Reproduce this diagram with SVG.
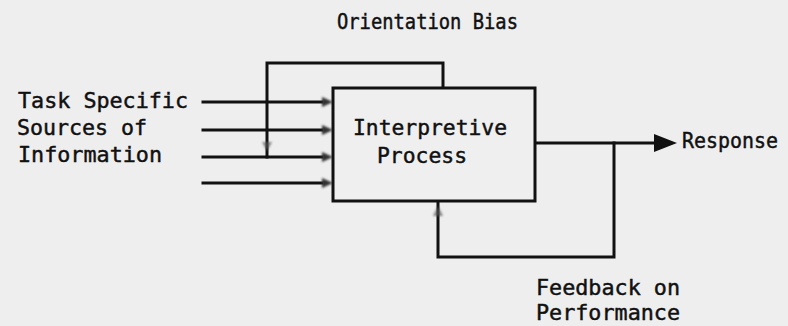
<svg xmlns="http://www.w3.org/2000/svg" width="788" height="326" viewBox="0 0 788 326">
  <style>
    .bg { fill: #eeeeee; }
    .line { fill: none; stroke: #111111; stroke-width: 3; stroke-linecap: square; }
    .box { fill: #efefef; stroke: #111111; stroke-width: 3; }
    .lbl { font-family: "DejaVu Sans Mono", "Liberation Mono", monospace; font-size: 21px; fill: #111111; stroke: #111111; stroke-width: 0.45; }
    .tip { fill: #333333; }
    .faint { fill: #555555; opacity: 0.7; }
  </style>
  <defs>
    <filter id="soft" x="-50%" y="-50%" width="200%" height="200%">
      <feGaussianBlur stdDeviation="0.9"/>
    </filter>
  </defs>

  <rect class="bg" x="0" y="0" width="788" height="326"/>

  <!-- connectors -->
  <g id="connectors">
    <!-- four input lines into the process box -->
    <path class="line" d="M203,102 H322"/>
    <path class="line" d="M203,130 H322"/>
    <path class="line" d="M203,157 H322"/>
    <path class="line" d="M203,183 H322"/>
    <g filter="url(#soft)">
      <polygon class="tip" points="322,97 333,102 322,107"/>
      <polygon class="tip" points="322,125 333,130 322,135"/>
      <polygon class="tip" points="322,152 333,157 322,162"/>
      <polygon class="tip" points="322,178 333,183 322,188"/>
    </g>
    <!-- orientation bias loop over the top -->
    <path class="line" d="M267,157 V63 H443 V88"/>
    <polygon class="faint" filter="url(#soft)" points="262,142 272,142 267,151"/>
    <!-- response output -->
    <path class="line" d="M535,143 H656"/>
    <polygon fill="#111111" points="654,134 677,143 654,152"/>
    <!-- feedback on performance loop underneath -->
    <path class="line" d="M614,143 V257 H438 V202"/>
    <polygon class="faint" filter="url(#soft)" points="433,216 443,216 438,206"/>
  </g>

  <!-- nodes -->
  <g id="node-process">
    <rect class="box" x="333" y="88" width="202" height="113"/>
    <text class="lbl" x="353" y="135" textLength="154" lengthAdjust="spacingAndGlyphs">Interpretive</text>
    <text class="lbl" x="377" y="163" textLength="90" lengthAdjust="spacingAndGlyphs">Process</text>
  </g>

  <g id="node-orientation">
    <text class="lbl" x="337" y="29" textLength="181" lengthAdjust="spacingAndGlyphs">Orientation Bias</text>
  </g>

  <g id="node-sources">
    <text class="lbl" x="18" y="108" textLength="170" lengthAdjust="spacingAndGlyphs">Task Specific</text>
    <text class="lbl" x="17" y="135" textLength="130" lengthAdjust="spacingAndGlyphs">Sources of</text>
    <text class="lbl" x="18" y="162" textLength="144" lengthAdjust="spacingAndGlyphs">Information</text>
  </g>

  <g id="node-response">
    <text class="lbl" x="682" y="148" textLength="96" lengthAdjust="spacingAndGlyphs">Response</text>
  </g>

  <g id="node-feedback">
    <text class="lbl" x="536" y="295" textLength="144" lengthAdjust="spacingAndGlyphs">Feedback on</text>
    <text class="lbl" x="536" y="320" textLength="144" lengthAdjust="spacingAndGlyphs">Performance</text>
  </g>
</svg>
